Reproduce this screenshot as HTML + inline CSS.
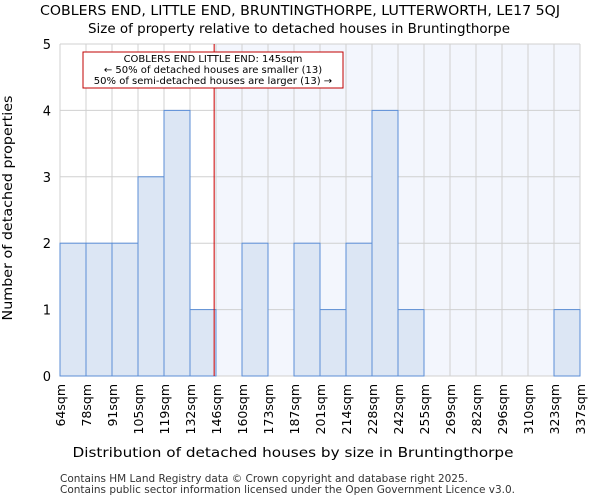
<!DOCTYPE html>
<html><head><meta charset="utf-8"><style>
body{margin:0;background:#fff;font-family:"DejaVu Sans","Liberation Sans",sans-serif}
</style></head><body>
<svg width="600" height="500" xmlns="http://www.w3.org/2000/svg" font-family="DejaVu Sans, Liberation Sans, sans-serif">
<text x="300" y="15" text-anchor="middle" font-size="13" textLength="520" lengthAdjust="spacingAndGlyphs">COBLERS END, LITTLE END, BRUNTINGTHORPE, LUTTERWORTH, LE17 5QJ</text>
<text x="299" y="33" text-anchor="middle" font-size="13" textLength="422" lengthAdjust="spacingAndGlyphs">Size of property relative to detached houses in Bruntingthorpe</text>
<g id="plot"></g>
<text x="293" y="457" text-anchor="middle" font-size="13.5" textLength="441" lengthAdjust="spacingAndGlyphs">Distribution of detached houses by size in Bruntingthorpe</text>
<text transform="translate(12,208) rotate(-90)" text-anchor="middle" font-size="13" textLength="225" lengthAdjust="spacingAndGlyphs">Number of detached properties</text>
<text x="60" y="482" font-size="10.5" fill="#333" textLength="408" lengthAdjust="spacingAndGlyphs">Contains HM Land Registry data © Crown copyright and database right 2025.</text>
<text x="60" y="493" font-size="10.5" fill="#333" textLength="455" lengthAdjust="spacingAndGlyphs">Contains public sector information licensed under the Open Government Licence v3.0.</text>
</svg>
<script>
const edges=[64,78,91,105,119,132,146,160,173,187,201,214,228,242,255,269,282,296,310,323,337];
const counts=[2,2,2,3,4,1,0,2,0,2,1,2,4,1,0,0,0,0,0,1];
const yTicks=[0,1,2,3,4,5];
const marker=145;
const NS="http://www.w3.org/2000/svg";
const g=document.getElementById('plot');
const L=60,R=580,T=44,B=376,n=counts.length;
const xi=i=>L+(R-L)*i/n;
const xv=v=>{for(let i=0;i<edges.length-1;i++){if(v<=edges[i+1])return xi(i)+(v-edges[i])/(edges[i+1]-edges[i])*(R-L)/n;}return R;};
const y=v=>B-(B-T)*v/5;
function mk(t,a){const e=document.createElementNS(NS,t);for(const k in a)e.setAttribute(k,a[k]);g.appendChild(e);return e;}
const mx=xv(marker);
let e=mk('rect',{x:mx,y:T,width:R-mx,height:B-T,fill:'#f3f6fd'});


for(let i=0;i<edges.length;i++){e=mk('line',{x1:xi(i),x2:xi(i),y1:T,y2:B,stroke:'#d0d0d0'});

}
yTicks.forEach(v=>{e=mk('line',{x1:L,x2:R,y1:y(v),y2:y(v),stroke:'#d0d0d0'});


const t=mk('text',{x:L-9,y:y(v)+5,'text-anchor':'end','font-size':13});t.textContent=v;

});
counts.forEach((c,i)=>{if(c>0){e=mk('rect',{x:xi(i),y:y(c),width:(R-L)/n,height:B-y(c),fill:'#dce6f4',stroke:'#5b8ed6','stroke-width':1});

}});
edges.forEach((v,i)=>{const t=mk('text',{transform:`translate(${xi(i)+5},384) rotate(-90)`,'text-anchor':'end','font-size':12.5});t.textContent=v+'sqm';

});
e=mk('line',{x1:mx,x2:mx,y1:T,y2:B,stroke:'#d00000','stroke-width':1});


e=mk('rect',{x:83,y:52,width:260,height:36,fill:'#fff',stroke:'#c00000'});


['COBLERS END LITTLE END: 145sqm','← 50% of detached houses are smaller (13)','50% of semi-detached houses are larger (13) →'].forEach((s,i)=>{const t=mk('text',{x:213,y:62+i*11,'text-anchor':'middle','font-size':10});t.textContent=s;

});
</script>
</body></html>
